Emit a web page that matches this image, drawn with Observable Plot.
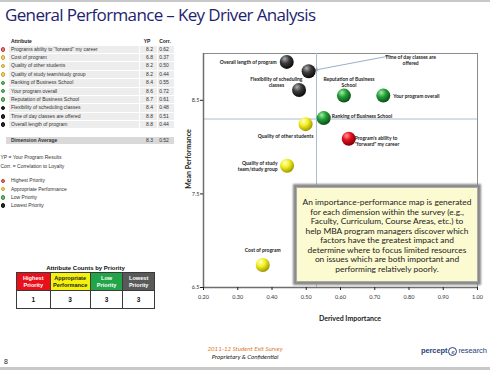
<!DOCTYPE html>
<html>
<head>
<meta charset="utf-8">
<script src="https://cdn.jsdelivr.net/npm/d3@7"></script>
<script src="https://cdn.jsdelivr.net/npm/@observablehq/plot@0.6"></script>
<style>
  html, body { margin: 0; padding: 0; background: #fff; }
  #page { position: relative; width: 490px; height: 370px; overflow: hidden; font-family: "Liberation Sans", Arial, sans-serif; color: #222; }
  #page > * { position: absolute; }
  .t5 { font-size: 5px; white-space: nowrap; line-height: 1; }
  .cell { position: absolute; background: #ededed; height: 7.4px; }
  .dotl { position: absolute; width: 4.6px; height: 4.6px; border-radius: 50%; box-sizing: border-box; }
  #counts { border-collapse: collapse; font-family: "Liberation Sans", Arial, sans-serif; }
  #counts td { border: 1px solid #3a3a3a; text-align: center; padding: 0; font-weight: bold; }
</style>
</head>
<body>
<div id="page"></div>
<script>
// ---------------- data ----------------
const attributes = [
  "Program's ability to \"forward\" my career",
  "Cost of program",
  "Quality of other students",
  "Quality of study team/study group",
  "Ranking of Business School",
  "Your program overall",
  "Reputation of Business School",
  "Flexibility of scheduling classes",
  "Time of day classes are offered",
  "Overall length of program"
];
const tableAttributes = [
  "Programs ability to \"forward\" my career",
  "Cost of program",
  "Quality of other students",
  "Quality of study team/study group",
  "Ranking of Business School",
  "Your program overall",
  "Reputation of Business School",
  "Flexibility of scheduling classes",
  "Time of day classes are offered",
  "Overall length of program"
];
const tableYP = ["8.2", "6.8", "8.2", "8.2", "8.4", "8.6", "8.7", "8.4", "8.8", "8.8"];
const tableCorr = ["0.62", "0.37", "0.50", "0.44", "0.55", "0.72", "0.61", "0.48", "0.51", "0.44"];
const priority = ["Highest", "Appropriate", "Appropriate", "Appropriate", "Low", "Low", "Low", "Lowest", "Lowest", "Lowest"];
// positions
const importance = [0.624, 0.373, 0.498, 0.444, 0.551, 0.725, 0.610, 0.479, 0.507, 0.443];
const performance = [8.09, 6.74, 8.245, 7.80, 8.31, 8.55, 8.55, 8.61, 8.81, 8.91];
const chartLabels = [
  "Program's ability to\n\"forward\" my career",
  "Cost of program",
  "Quality of other students",
  "Quality of study\nteam/study group",
  "Ranking of Business School",
  "Your program overall",
  "Reputation of Business\nSchool",
  "Flexibility of scheduling\nclasses",
  "Time of day classes are\noffered",
  "Overall length of program"
];
const dimensionAverage = {yp: "8.3", corr: "0.52"};
const avgImportance = 0.53;
const avgPerformance = 8.30;
const priorityNames = ["Highest", "Appropriate", "Low", "Lowest"];
const legendLabels = ["Highest Priority", "Appropriate Performance", "Low  Priority", "Lowest Priority"];
const countHeaders = ["Highest\nPriority", "Appropriate\nPerformance", "Low\nPriority", "Lowest\nPriority"];
const counts = [1, 3, 3, 3];
const xTicks = [0.2, 0.3, 0.4, 0.5, 0.6, 0.7, 0.8, 0.9, 1.0];
const yTicks = [6.5, 7.5, 8.5];
// callout arrow (Time of day) start point
const arrowStart = {x: 0.746, y: 8.976};

// ---------------- styles (kept apart from data) ----------------
const labelLayout = [
  {dx: 6, dy: 2, anchor: "start"},
  {dx: 0, dy: -15, anchor: "middle"},
  {dx: -20, dy: 11.5, anchor: "middle"},
  {dx: -9.5, dy: 0, anchor: "end"},
  {dx: 8, dy: -2.5, anchor: "start"},
  {dx: 10, dy: 0, anchor: "start"},
  {dx: 5, dy: -13.7, anchor: "middle"},
  {dx: -22.7, dy: -8.2, anchor: "middle"},
  {dx: 102, dy: -11.5, anchor: "middle"},
  {dx: -10, dy: 0, anchor: "end"}
];
const sphere = {
  Highest: ["#ff9a9a", "#e3101c", "#7a0008"],
  Appropriate: ["#ffffd0", "#f3ef1e", "#9a9400"],
  Low: ["#a8eca8", "#22a038", "#0a4818"],
  Lowest: ["#b0b0b0", "#3c3c3c", "#080808"]
};
const tableDot = {
  Highest: ["#ee8080", "#b83838"],
  Appropriate: ["#f6d878", "#c8a030"],
  Low: ["#6cc070", "#3a8a40"],
  Lowest: ["#2a2a2a", "#111"]
};
const headerColors = [["#e8101a", "#fff"], ["#f4f20c", "#222"], ["#22a449", "#fff"], ["#595959", "#fff"]];

const page = document.getElementById("page");
function el(tag, css, html, parent = page) {
  const e = document.createElement(tag);
  e.setAttribute("style", css);
  if (html != null) e.innerHTML = html;
  parent.appendChild(e);
  return e;
}

// ---------------- chart ----------------
const points = attributes.map((a, i) => ({
  name: a, x: importance[i], y: performance[i], p: priority[i], label: chartLabels[i], ...labelLayout[i]
}));

const marks = [
  Plot.frame({stroke: "#8c8c8c"}),
  Plot.ruleY([avgPerformance], {stroke: "#a8bdd0", strokeWidth: 1}),
  Plot.ruleX([avgImportance], {stroke: "#a8bdd0", strokeWidth: 1}),
  Plot.ruleX([xTicks[0]], {stroke: "#6e6e6e", strokeWidth: 1.5}),
  Plot.ruleY([yTicks[0]], {stroke: "#6e6e6e", strokeWidth: 1.5}),
  Plot.axisX({ticks: xTicks, tickFormat: d3.format(".2f"), tickSize: 3, tickPadding: 5, label: null, fontSize: 5.5, fill: "#333"}),
  Plot.axisY({ticks: yTicks, tickFormat: d3.format(".1f"), tickSize: 3, tickPadding: 1, label: null, fontSize: 5.5, fill: "#333"}),
  Plot.arrow([0], {x1: () => arrowStart.x, y1: () => arrowStart.y, x2: () => importance[8], y2: () => performance[8],
    stroke: "#7d9bbb", strokeWidth: 0.8, headLength: 5, insetEnd: 7})
];
for (const p of priorityNames) {
  marks.push(Plot.dot(points.filter(d => d.p === p), {x: "x", y: "y", r: 7, fill: `url(#sph${p})`, stroke: "none"}));
}
for (const d of points) {
  marks.push(Plot.text([d], {x: "x", y: "y", text: "label", dx: d.dx, dy: d.dy, textAnchor: d.anchor,
    fontSize: 5, fontWeight: "bold", fill: "#222", lineHeight: 1.25, fontFamily: "Lato"}));
}

const chart = Plot.plot({
  width: 490, height: 370,
  marginLeft: 203, marginRight: 13, marginTop: 53, marginBottom: 83,
  x: {domain: [0.2, 1.0]},
  y: {domain: [6.5, 9.0]},
  style: {background: "transparent", fontFamily: "Lato", overflow: "visible"},
  marks
});
chart.style.position = "absolute";
chart.style.left = "0px";
chart.style.top = "0px";
page.appendChild(chart);

// sphere gradients
const defs = d3.select(chart).insert("defs", ":first-child");
for (const p of priorityNames) {
  const g = defs.append("radialGradient").attr("id", `sph${p}`).attr("cx", "38%").attr("cy", "32%").attr("r", "70%").attr("fx", "35%").attr("fy", "28%");
  g.append("stop").attr("offset", "0%").attr("stop-color", sphere[p][0]);
  g.append("stop").attr("offset", "45%").attr("stop-color", sphere[p][1]);
  g.append("stop").attr("offset", "100%").attr("stop-color", sphere[p][2]);
}

// axis titles
el("div", "left:318px;top:314px;width:64px;text-align:center;font:bold 7px Lato;white-space:nowrap;color:#222", "Derived Importance");
el("div", "left:158px;top:155px;width:60px;text-align:center;font:bold 7px Lato;white-space:nowrap;color:#222;transform:rotate(-90deg);transform-origin:30px 4px", "Mean Performance");

// explanation box
el("div", "left:296px;top:187px;width:182px;height:95px;background:#fcfad0;border:1px solid #aaa;box-sizing:border-box;box-shadow:0 0 2px 3px #8a8a8a;font:8.4px Lato;color:#222;text-align:center;line-height:9.5px;padding-top:10px",
  "An importance-performance map is generated<br>for each dimension within the survey (e.g.,<br>Faculty, Curriculum, Course Areas, etc.) to<br>help MBA program managers discover which<br>factors have the greatest impact and<br>determine where to focus limited resources<br>on issues which are both important and<br>performing relatively poorly.");

// ---------------- page furniture ----------------
el("div", "left:0;top:0;width:490px;height:2px;background:#c8c8c8");
el("div", "left:0;top:367px;width:490px;height:3px;background:#c8c8c8");
el("div", "left:5px;top:3px;font:17px 'Open Sans';color:#1d2370;white-space:nowrap;letter-spacing:-0.65px", "General Performance \u2013 Key Driver Analysis");

// attribute table
el("div", "left:11px;top:38.5px;font-weight:bold", "Attribute").className = "t5";
el("div", "left:140px;top:38.5px;width:14px;text-align:center;font-weight:bold", "YP").className = "t5";
el("div", "left:158px;top:38.5px;width:14px;text-align:center;font-weight:bold", "Corr.").className = "t5";
tableAttributes.forEach((a, i) => {
  const yc = 49.3 + i * 8.38;
  const top = yc - 3.7;
  el("div", `left:9px;top:${top}px;width:130px`).className = "cell";
  el("div", `left:140px;top:${top}px;width:17px`).className = "cell";
  el("div", `left:157.5px;top:${top}px;width:16.5px`).className = "cell";
  el("div", `left:0.8px;top:${yc - 2.3}px;background:${tableDot[priority[i]][0]};border:0.7px solid ${tableDot[priority[i]][1]}`).className = "dotl";
  el("div", `left:11px;top:${yc - 2.6}px;color:#333`, a.replace(/"/g, "&quot;")).className = "t5";
  el("div", `left:141px;top:${yc - 2.6}px;width:17px;text-align:center;color:#333`, tableYP[i]).className = "t5";
  el("div", `left:157px;top:${yc - 2.6}px;width:14px;text-align:center;color:#333`, tableCorr[i]).className = "t5";
});
el("div", "left:6px;top:136.6px;width:168px;height:7.6px;background:#d9d9d9");
el("div", "left:11px;top:137.8px;font-weight:bold;color:#333", "Dimension Average").className = "t5";
el("div", "left:141px;top:137.8px;width:17px;text-align:center;color:#333", dimensionAverage.yp).className = "t5";
el("div", "left:157px;top:137.8px;width:14px;text-align:center;color:#333", dimensionAverage.corr).className = "t5";

el("div", "left:0.5px;top:154.5px;color:#333", "YP = Your Program Results").className = "t5";
el("div", "left:0.5px;top:163.5px;color:#333", "Corr. = Correlation to Loyalty").className = "t5";
legendLabels.forEach((l, i) => {
  const yc = 181 + i * 8.2;
  const p = priorityNames[i];
  el("div", `left:0.8px;top:${yc - 2.3}px;background:${tableDot[p][0]};border:0.7px solid ${tableDot[p][1]}`).className = "dotl";
  el("div", `left:11px;top:${yc - 2.6}px;color:#333`, l).className = "t5";
});

// counts table
el("div", "left:16px;top:264.5px;width:139px;text-align:center;font:bold 6px 'Liberation Sans';color:#111;white-space:nowrap", "Attribute Counts by Priority");
const tbl = el("table", "left:16px;top:272px;width:139px");
tbl.id = "counts";
const colW = [34, 40, 33, 32];
const tr1 = document.createElement("tr");
countHeaders.forEach((h, i) => {
  const td = document.createElement("td");
  td.setAttribute("style", `width:${colW[i]}px;height:17px;background:${headerColors[i][0]};color:${headerColors[i][1]};font-size:5.6px;line-height:6.6px`);
  td.innerHTML = h.replace("\n", "<br>");
  tr1.appendChild(td);
});
tbl.appendChild(tr1);
const tr2 = document.createElement("tr");
counts.forEach((c) => {
  const td = document.createElement("td");
  td.setAttribute("style", "height:17px;background:#fff;color:#111;font-size:6.5px");
  td.textContent = c;
  tr2.appendChild(td);
});
tbl.appendChild(tr2);

// footer
el("div", "left:4px;top:358px;font:7px 'Liberation Sans';color:#222", "8");
el("div", "left:195px;top:344.5px;width:100px;text-align:center;font:italic 6.2px Lato;color:#e07a2a;white-space:nowrap", "2011-12 Student Exit Survey");
el("div", "left:195px;top:352.5px;width:100px;text-align:center;font:italic 6.2px Lato;color:#222;white-space:nowrap", "Proprietary &amp; Confidential");
el("div", "left:421px;top:346px;font:bold 7.5px 'Liberation Sans';color:#2b3f78;white-space:nowrap;letter-spacing:-0.1px",
  "percept<span style='display:inline-block;width:9px;height:9px;border:1px solid #2b3f78;border-radius:50%;box-sizing:border-box;font:italic 6.5px Lato;text-align:center;line-height:7px;vertical-align:-1px;margin:0 1px'>e</span><span style='font-weight:normal'>research</span>");
</script>
</body>
</html>
